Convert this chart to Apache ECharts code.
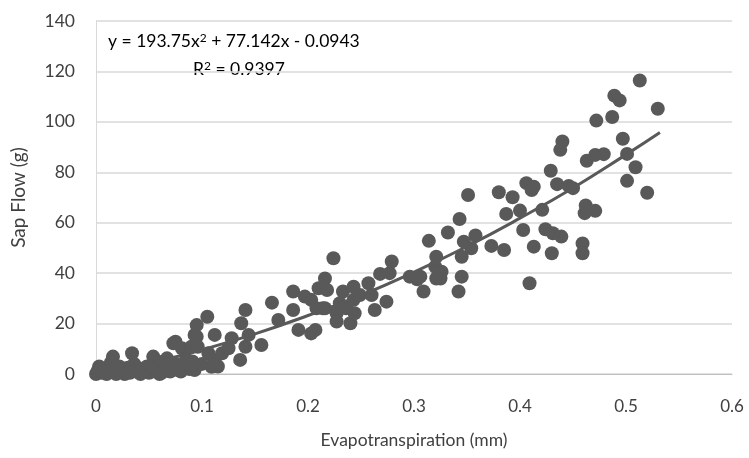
<!DOCTYPE html>
<html>
<head>
<meta charset="utf-8">
<script src="https://cdn.jsdelivr.net/npm/echarts@6/dist/echarts.min.js"></script>
<style>html,body{margin:0;padding:0;background:#fff}#c{width:749px;height:458px}</style>
</head>
<body>
<div id="c"></div>
<script>
// Evapotranspiration (mm) values
const etValues = [
  0,0.002,0.003,0.005,0.008,0.01,0.012,0.014,0.016,0.018,0.02,0.022,0.025,0.027,0.03,0.032,0.034,0.036,0.038,0.04,
  0.042,0.045,0.048,0.05,0.053,0.054,0.057,0.059,0.06,0.063,0.065,0.067,0.07,0.072,0.073,0.075,0.075,0.078,0.081,0.083,
  0.085,0.088,0.09,0.091,0.093,0.093,0.095,0.096,0.095,0.105,0.106,0.109,0.112,0.112,0.119,0.125,0.128,0.136,0.137,0.141,
  0.141,0.144,0.156,0.166,0.172,0.186,0.186,0.191,0.197,0.203,0.203,0.207,0.208,0.210,0.214,0.216,0.216,0.218,0.224,0.227,
  0.227,0.230,0.233,0.236,0.240,0.243,0.243,0.244,0.249,0.257,0.260,0.263,0.268,0.274,0.277,0.279,0.296,0.303,0.306,0.309,
  0.314,0.320,0.321,0.321,0.323,0.325,0.326,0.332,0.342,0.343,0.345,0.345,0.347,0.351,0.354,0.358,0.373,0.380,0.385,0.387,
  0.393,0.400,0.403,0.406,0.409,0.411,0.413,0.413,0.421,0.424,0.429,0.430,0.431,0.435,0.438,0.439,0.440,0.446,0.450,0.459,
  0.459,0.461,0.462,0.463,0.471,0.471,0.472,0.479,0.487,0.489,0.494,0.497,0.501,0.501,0.509,0.513,0.520,0.530,0.001,0.004,
  0.007,0.011,0.019,0.024,0.029,0.039,0.044,0.052,0.062,0.069,0.08,0.087,0.1,0.115
];
// Sap Flow (g) values
const sapFlowValues = [
  0,1.5,3,0.5,2,0,1,4.5,6.9,2,0.5,3,1,0,2.5,0.5,8.2,4,1,2,
  0,1.5,3,0.5,1,6.9,2,4.9,0,1.5,3,6.2,1,2.5,12.2,12.8,4,1.5,10.2,3,
  6,2,10.8,5,1.6,15.5,19.4,10.8,14.8,22.7,8.2,2.9,15.5,5.6,8.2,10.2,14.2,5.6,20.1,25.4,
  10.8,15.5,11.5,28.3,21.4,32.7,25.4,17.5,30.7,29.4,16.1,17.5,26.1,34.0,26.1,37.9,26.1,33.3,45.9,24.1,
  20.8,28.1,32.7,26.1,20.1,34.6,29.4,24.1,31.3,36.0,31.3,25.4,39.7,28.7,40.0,44.6,38.6,37.6,38.6,32.7,
  52.8,42.6,46.5,37.9,40.6,37.9,40.6,56.1,32.7,61.5,38.6,46.5,52.5,71.0,49.9,54.9,50.8,72.1,49.2,63.5,
  70.1,64.8,57.1,75.7,36.0,73.0,74.3,50.5,65.1,57.4,80.6,47.9,55.8,75.3,88.9,54.5,92.2,74.6,73.7,51.8,
  47.9,63.8,66.8,84.6,86.9,64.7,100.5,87.2,101.9,110.4,108.5,93.3,87.3,76.6,82.0,116.4,71.9,105.2,0.5,2,
  1,2.5,0,1.5,0.5,2.5,1,3,0.5,2,1,4,4,3
];
// Trendline readings (x, y)
const trendX = [0, 0.05, 0.1, 0.15, 0.2, 0.25, 0.3, 0.35, 0.4, 0.45, 0.5, 0.532];
const trendY = [0, 4.2, 9.6, 15.9, 23.2, 31.2, 40.4, 50.6, 61.8, 73.8, 87.0, 95.8];
const xTicks = [0, 0.1, 0.2, 0.3, 0.4, 0.5, 0.6];
const yTicks = [0, 20, 40, 60, 80, 100, 120, 140];

const font = 'Lato';
const rich = {
  n: {fontFamily: font, fontSize: 17.5, color: '#404040'},
  s: {fontFamily: font, fontSize: 12, color: '#404040', verticalAlign: 'top', padding: [0, 0, 7, 0]}
};
const chart = echarts.init(document.getElementById('c'));
chart.setOption({
  animation: false,
  grid: {left: 96, right: 17, top: 21, bottom: 84},
  xAxis: {
    type: 'value', min: xTicks[0], max: xTicks[xTicks.length-1], interval: 0.1,
    name: 'Evapotranspiration (mm)', nameLocation: 'middle', nameGap: 57,
    nameTextStyle: {fontFamily: font, fontSize: 17.5, color: '#404040'},
    axisLine: {show: true, lineStyle: {color: '#bfbfbf', width: 1}},
    axisTick: {show: false},
    axisLabel: {fontFamily: font, fontSize: 17, color: '#404040', margin: 24},
    splitLine: {show: false}
  },
  yAxis: {
    type: 'value', min: yTicks[0], max: yTicks[yTicks.length-1], interval: 20,
    name: 'Sap Flow (g)', nameLocation: 'middle', nameGap: 68, nameRotate: 90,
    nameTextStyle: {fontFamily: font, fontSize: 19, color: '#404040'},
    axisLine: {show: true, lineStyle: {color: '#d9d9d9', width: 1}},
    axisTick: {show: false},
    axisLabel: {fontFamily: font, fontSize: 17.5, color: '#404040', margin: 21},
    splitLine: {show: true, lineStyle: {color: '#d9d9d9', width: 1.5}}
  },
  graphic: [
    {type: 'text', left: 108, top: 32, style: {text: '{n|y = 193.75x}{s|2}{n| + 77.142x - 0.0943}', rich: rich}},
    {type: 'text', left: 193, top: 60, style: {text: '{n|R}{s|2}{n| = 0.9397}', rich: rich}}
  ],
  series: [
    {
      type: 'scatter', symbolSize: 14,
      itemStyle: {color: '#595959', opacity: 1},
      data: etValues.map((x, i) => [x, sapFlowValues[i]]),
      z: 2
    },
    {
      type: 'line', smooth: true, showSymbol: false,
      lineStyle: {color: '#595959', width: 3},
      data: trendX.map((x, i) => [x, trendY[i]]),
      z: 3
    }
  ]
});
</script>
</body>
</html>
